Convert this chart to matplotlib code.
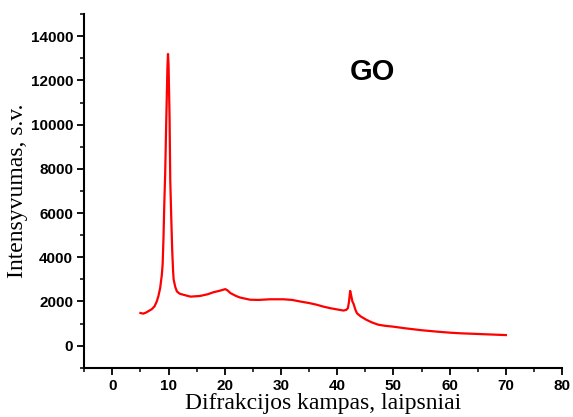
import matplotlib.pyplot as plt
from matplotlib.ticker import MultipleLocator

# XRD pattern of GO
two_theta = [5.0, 5.5, 6.0, 7.0, 7.5, 7.9, 8.2, 8.5, 8.8, 8.95, 9.1, 9.24, 9.4, 9.6,
             9.8, 9.9, 10.0, 10.18, 10.3, 10.5, 10.65, 10.8, 10.9, 11.2, 11.5, 12.0,
             12.7, 13.9, 15.6, 17.0, 18.0, 19.0, 20.1, 20.5, 21.0, 22.0, 22.7, 24.5,
             26.0, 28.0, 30.4, 32.0, 33.4, 35.0, 36.4, 37.5, 38.7, 40.0, 41.1, 41.6,
             41.9, 42.1, 42.3, 42.5, 42.7, 42.9, 43.2, 43.5, 44.2, 45.2, 46.2, 47.3,
             48.5, 50.0, 52.0, 55.0, 58.0, 60.0, 62.0, 65.0, 68.0, 70.0]
intensity = [1480, 1450, 1500, 1650, 1780, 2000, 2250, 2600, 3200, 3700, 4900, 6400, 7800, 10300,
             12600, 13200, 12700, 10300, 7500, 5600, 4300, 3400, 3000, 2650, 2450, 2350,
             2300, 2220, 2250, 2330, 2420, 2480, 2560, 2500, 2380, 2250, 2180, 2080,
             2070, 2100, 2100, 2070, 2000, 1930, 1850, 1770, 1700, 1640, 1590, 1620,
             1700, 2000, 2480, 2250, 2000, 1900, 1650, 1470, 1320, 1170, 1050, 950,
             900, 860, 790, 700, 630, 590, 560, 530, 500, 480]

fig = plt.figure(figsize=(5.73, 4.17), dpi=100)
ax = fig.add_axes([0.147, 0.118, 0.834, 0.848])

ax.plot(two_theta, intensity, color='#ff0000', lw=1.6)

ax.set_xlim(-5, 80)
ax.set_ylim(-1000, 15000)
ax.xaxis.set_major_locator(MultipleLocator(10))
ax.xaxis.set_minor_locator(MultipleLocator(5))
ax.yaxis.set_major_locator(MultipleLocator(2000))
ax.yaxis.set_minor_locator(MultipleLocator(1000))

for s in ['top', 'right']:
    ax.spines[s].set_visible(False)
for s in ['left', 'bottom']:
    ax.spines[s].set_linewidth(1.5)

ax.tick_params(which='major', direction='out', length=5, width=1.3, pad=3)
ax.tick_params(which='minor', direction='out', length=3, width=1.1)
for lab in ax.get_xticklabels() + ax.get_yticklabels():
    lab.set_fontfamily('Liberation Sans')
    lab.set_fontweight('bold')
    lab.set_fontsize(11)

ax.set_xlabel('Difrakcijos kampas, laipsniai', fontfamily='Liberation Serif', fontsize=17, labelpad=0)
ax.set_ylabel('Intensyvumas, s.v.', fontfamily='Liberation Serif', fontsize=17, labelpad=2)

ax.text(46.2, 12400, 'GO', fontfamily='Liberation Sans', fontweight='bold', fontsize=21,
        ha='center', va='center')

fig.savefig('out.png', dpi=100)
